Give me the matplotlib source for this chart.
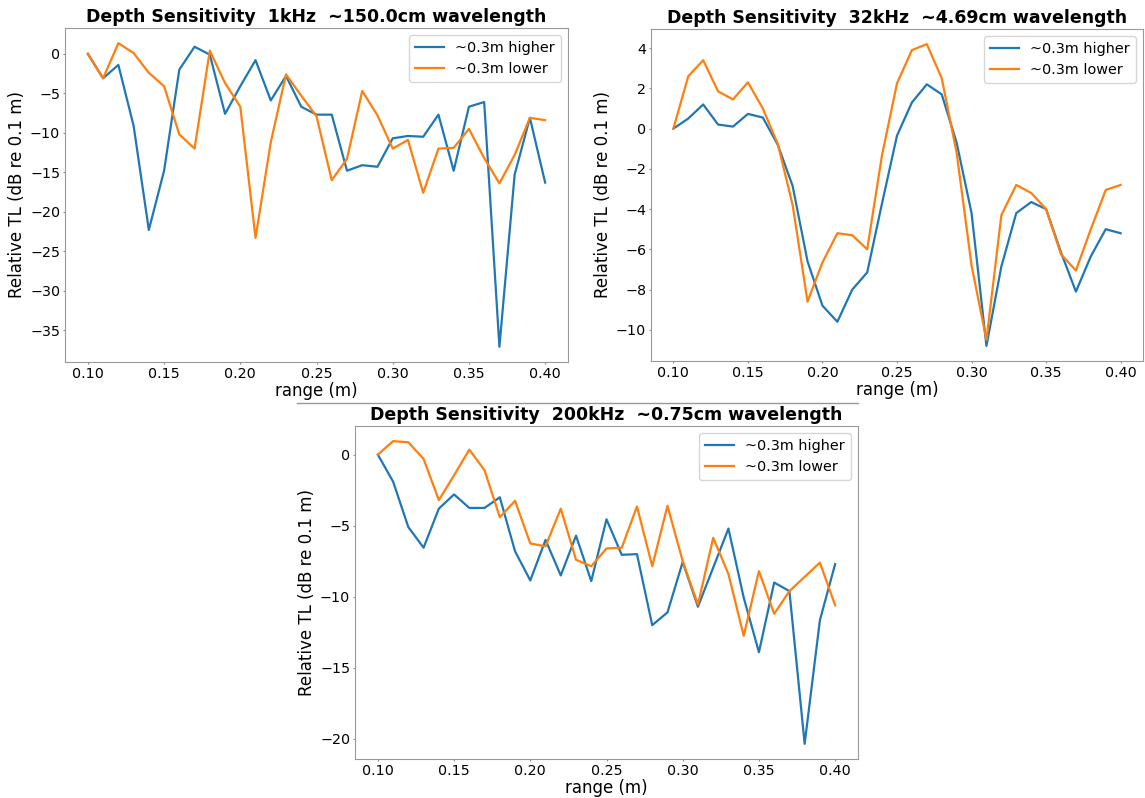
import numpy as np
import matplotlib
matplotlib.use("Agg")
import matplotlib.pyplot as plt
from matplotlib.lines import Line2D

# range steps shared by all three runs
rng = [0.10, 0.11, 0.12, 0.13, 0.14, 0.15, 0.16, 0.17, 0.18, 0.19, 0.20,
       0.21, 0.22, 0.23, 0.24, 0.25, 0.26, 0.27, 0.28, 0.29, 0.30,
       0.31, 0.32, 0.33, 0.34, 0.35, 0.36, 0.37, 0.38, 0.39, 0.40]

# 1 kHz
hi_1k = [0.0, -3.1, -1.4, -9.1, -22.3, -14.8, -2.0, 0.9, -0.1, -7.6, -4.1,
         -0.8, -5.9, -2.8, -6.7, -7.7, -7.7, -14.8, -14.1, -14.3, -10.7,
         -10.4, -10.5, -7.7, -14.8, -6.7, -6.1, -37.1, -15.3, -8.1, -16.3]
lo_1k = [0.0, -3.1, 1.35, 0.1, -2.4, -4.1, -10.2, -12.0, 0.4, -3.7, -6.7,
         -23.3, -11.2, -2.6, -5.3, -7.9, -16.0, -13.3, -4.7, -7.8, -12.0,
         -10.9, -17.6, -12.0, -11.9, -9.5, -13.2, -16.4, -12.8, -8.1, -8.4]

# 32 kHz
hi_32k = [0.0, 0.5, 1.2, 0.2, 0.1, 0.73, 0.55, -0.8, -2.85, -6.6, -8.8,
          -9.6, -8.0, -7.15, -3.7, -0.35, 1.3, 2.2, 1.7, -0.7, -4.2,
          -10.8, -6.85, -4.2, -3.65, -4.0, -6.15, -8.1, -6.35, -5.0, -5.2]
lo_32k = [0.0, 2.6, 3.4, 1.85, 1.45, 2.3, 1.0, -0.75, -3.8, -8.6, -6.65,
          -5.2, -5.3, -6.0, -1.3, 2.25, 3.9, 4.2, 2.5, -1.2, -6.8,
          -10.5, -4.3, -2.8, -3.2, -4.0, -6.25, -7.05, -5.0, -3.05, -2.8]

# 200 kHz
hi_200k = [0.0, -1.9, -5.1, -6.55, -3.8, -2.8, -3.75, -3.75, -3.0, -6.8, -8.85,
           -6.0, -8.5, -5.7, -8.9, -4.55, -7.05, -7.0, -12.0, -11.1, -7.55,
           -10.7, -7.95, -5.2, -10.05, -13.9, -9.0, -9.6, -20.35, -11.65, -7.7]
lo_200k = [0.0, 0.95, 0.87, -0.3, -3.2, -1.45, 0.35, -1.1, -4.4, -3.25, -6.25,
           -6.45, -3.8, -7.4, -7.85, -6.6, -6.55, -3.65, -7.85, -3.6, -7.5,
           -10.55, -5.85, -8.4, -12.75, -8.2, -11.2, -9.6, -8.6, -7.6, -10.6]

titles = ["Depth Sensitivity  1kHz  ~150.0cm wavelength",
          "Depth Sensitivity  32kHz  ~4.69cm wavelength",
          "Depth Sensitivity  200kHz  ~0.75cm wavelength"]

W, H = 1145, 798
fig = plt.figure(figsize=(W / 100, H / 100), dpi=100)


def px_axes(left, top, right, bottom):
    return fig.add_axes([left / W, 1 - bottom / H, (right - left) / W, (bottom - top) / H])


axes = [px_axes(65, 28, 568, 362),
        px_axes(651, 29, 1143, 361),
        px_axes(355, 426, 858, 759)]
data = [(hi_1k, lo_1k), (hi_32k, lo_32k), (hi_200k, lo_200k)]

for ax, (hi, lo), title in zip(axes, data, titles):
    ax.plot(rng, hi, color="#1f77b4", lw=1.6, label="~0.3m higher")
    ax.plot(rng, lo, color="#ff7f0e", lw=1.6, label="~0.3m lower")
    ax.set_title(title, fontsize=12.5, fontweight="bold", pad=4)
    ax.set_xlabel("range (m)", fontsize=12, labelpad=1)
    ax.set_ylabel("Relative TL (dB re 0.1 m)", fontsize=12, labelpad=3)
    ax.set_xticks([0.10, 0.15, 0.20, 0.25, 0.30, 0.35, 0.40])
    ax.tick_params(labelsize=10.3, color="0.55", length=1.5, pad=2)
    for sp in ax.spines.values():
        sp.set_color("0.6")
    ax.legend(loc="upper right", fontsize=10.4)

# thin separator above the lower panel
fig.add_artist(Line2D([297 / W, 858 / W], [1 - 403 / H, 1 - 403 / H],
                      color="0.6", lw=1))

fig.savefig("out.png", dpi=100)
